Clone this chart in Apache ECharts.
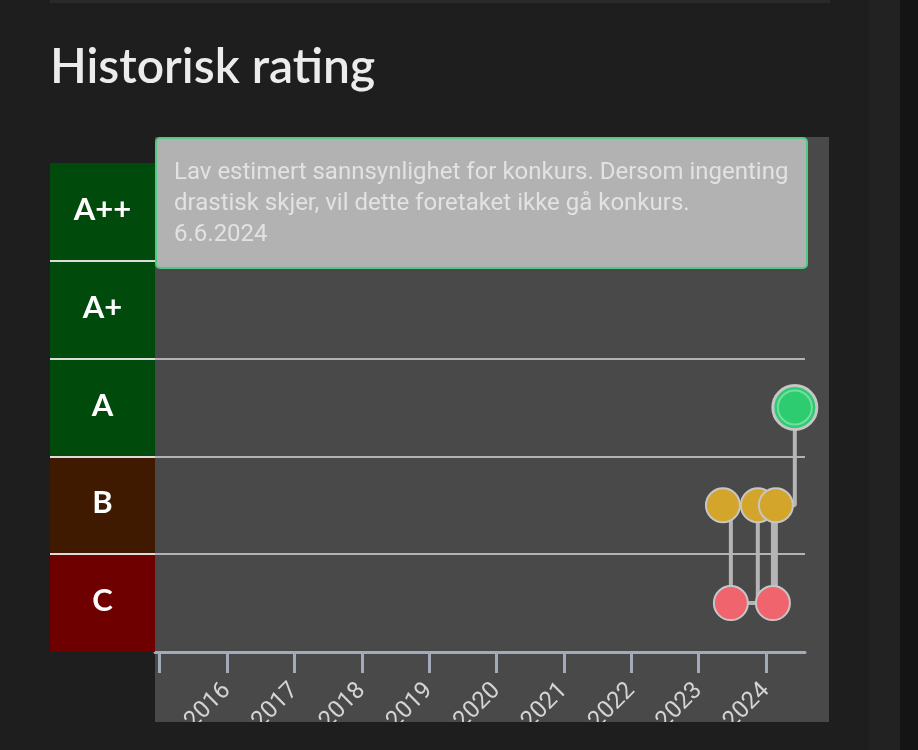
<!DOCTYPE html>
<html>
<head>
<meta charset="utf-8">
<script src="https://cdn.jsdelivr.net/npm/echarts@6/dist/echarts.min.js"></script>
<style>
  html, body { margin: 0; padding: 0; background: #1e1e1e; }
  #chart { width: 918px; height: 750px; }
</style>
</head>
<body>
<div id="chart"></div>
<script>
// ---- data ----
const ratingLevels = ['C', 'B', 'A', 'A+', 'A++'];
const ratingDates = ['2023-05-13', '2023-06-25', '2023-11-18', '2024-02-08', '2024-02-24', '2024-06-06'];
const ratingValues = ['B', 'C', 'B', 'C', 'B', 'A'];
const yearTicks = [2015, 2016, 2017, 2018, 2019, 2020, 2021, 2022, 2023, 2024];
const yearLabels = [2016, 2017, 2018, 2019, 2020, 2021, 2022, 2023, 2024];
const axisMinYear = 2014.93;
const axisMaxYear = 2024.58;
const tooltipLines = [
  'Lav estimert sannsynlighet for konkurs. Dersom ingenting',
  'drastisk skjer, vil dette foretaket ikke gå konkurs.',
  '6.6.2024'
];
const titleText = 'Historisk rating';

// ---- styles ----
const bandColors = { 'C': '#6f0000', 'B': '#3f1a00', 'A': '#004a0b', 'A+': '#004a0b', 'A++': '#004a0b' };
const pointColors = { 'A': '#2ecc71', 'B': '#d4a52b', 'C': '#f0646e' };

function toYear(s) {
  const d = new Date(s + 'T00:00:00Z');
  const y = d.getUTCFullYear();
  const start = Date.UTC(y, 0, 1), end = Date.UTC(y + 1, 0, 1);
  return y + (d.getTime() - start) / (end - start);
}

const lastIdx = ratingDates.length - 1;
const lineData = ratingDates.map((d, i) => ({
  value: [toYear(d), ratingValues[i]],
  symbolSize: i === lastIdx ? 44 : 34,
  itemStyle: {
    color: pointColors[ratingValues[i]],
    borderColor: '#c6c6c6',
    borderWidth: i === lastIdx ? 3 : 2
  }
}));

const chart = echarts.init(document.getElementById('chart'), null, { renderer: 'canvas' });
chart.setOption({
  backgroundColor: '#1e1e1e',
  animation: false,
  grid: [
    { left: 50, width: 105, top: 163, bottom: 98 },
    { left: 155, right: 113, top: 163, bottom: 98 }
  ],
  xAxis: [
    { gridIndex: 0, type: 'value', min: 0, max: 1, show: false },
    {
      gridIndex: 1, type: 'value', min: axisMinYear, max: axisMaxYear,
      axisLine: { show: true, lineStyle: { color: '#a3abba', width: 3 } },
      axisTick: { show: true, customValues: yearTicks, length: 21, lineStyle: { color: '#a3abba', width: 3 } },
      axisLabel: {
        show: true, customValues: yearLabels, rotate: 45, margin: 35,
        fontSize: 24, color: '#d4d4d4', fontFamily: 'Roboto',
        formatter: v => String(Math.round(v))
      },
      splitLine: { show: false }
    }
  ],
  yAxis: [
    {
      gridIndex: 0, type: 'category', data: ratingLevels, boundaryGap: true, z: 10,
      axisLine: { show: false }, axisTick: { show: false }, axisLabel: { show: false },
      splitLine: { show: true, showMinLine: false, showMaxLine: false, lineStyle: { color: '#dcdcdc', width: 2 } }
    },
    {
      gridIndex: 1, type: 'category', data: ratingLevels, boundaryGap: true,
      axisLine: { show: false }, axisTick: { show: false }, axisLabel: { show: false },
      splitLine: { show: true, showMinLine: false, showMaxLine: false, lineStyle: { color: '#b3b3b3', width: 2 } }
    }
  ],
  series: [
    {
      type: 'bar', xAxisIndex: 0, yAxisIndex: 0, barWidth: '100%', silent: true,
      data: ratingLevels.map(l => ({ value: 1, itemStyle: { color: bandColors[l] } })),
      label: {
        show: true, position: 'inside', formatter: '{b}', offset: [0, -2],
        color: '#ffffff', fontSize: 31, fontWeight: 'bold', fontFamily: 'Lato'
      }
    },
    {
      type: 'line', xAxisIndex: 1, yAxisIndex: 1, step: 'start', symbol: 'circle',
      showSymbol: true, silent: true, z: 5,
      lineStyle: { color: '#b5b5b5', width: 4 },
      data: lineData
    },
    {
      type: 'scatter', xAxisIndex: 1, yAxisIndex: 1, silent: true, z: 6,
      symbol: 'circle', symbolSize: 34,
      itemStyle: { color: 'rgba(0,0,0,0)', borderColor: '#86e2ad', borderWidth: 2 },
      data: [[toYear(ratingDates[lastIdx]), ratingValues[lastIdx]]]
    }
  ],
  graphic: [
    { type: 'rect', z: -10, shape: { x: 50, y: 0, width: 780, height: 3 }, style: { fill: '#2a2a2a' } },
    { type: 'rect', z: -10, shape: { x: 869, y: 0, width: 31, height: 750 }, style: { fill: '#222222' } },
    { type: 'rect', z: -10, shape: { x: 900, y: 0, width: 18, height: 750 }, style: { fill: '#141414' } },
    { type: 'rect', z: -10, shape: { x: 155, y: 137, width: 674, height: 585 }, style: { fill: '#494949' } },
    { type: 'rect', z: 100, shape: { x: 150, y: 722, width: 690, height: 28 }, style: { fill: '#1e1e1e' } },
    {
      type: 'text', z: 100, x: 50, y: 44,
      style: { text: titleText, fill: '#ececec', font: '600 48px Lato' }
    },
    {
      type: 'group', z: 100,
      children: [
        {
          type: 'rect', z: 100, shape: { x: 156, y: 138, width: 651, height: 130, r: 4 },
          style: { fill: '#b2b2b2', stroke: '#4fc983', lineWidth: 2 }
        },
        {
          type: 'text', z: 101, x: 174, y: 157,
          style: { text: tooltipLines.join('\n'), fill: '#e2e2e2', font: '24px Roboto', lineHeight: 31 }
        }
      ]
    }
  ]
});
</script>
</body>
</html>
